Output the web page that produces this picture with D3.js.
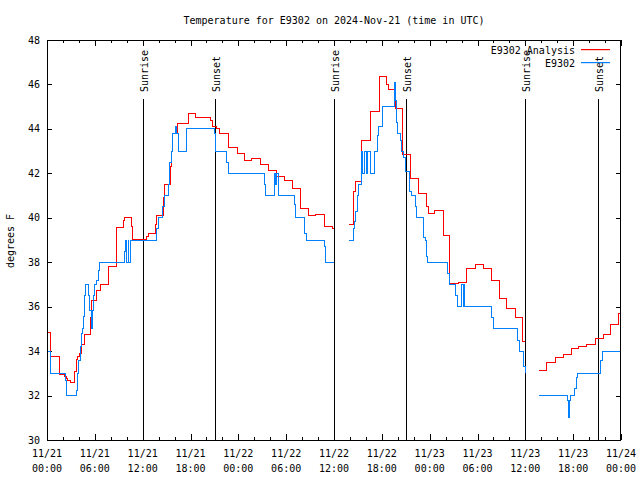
<!DOCTYPE html>
<html><head><meta charset="utf-8">
<script src="https://cdn.jsdelivr.net/npm/d3@7"></script>
<style>
body{margin:0;background:#fff;}
text{font-family:"DejaVu Sans Mono",monospace;font-size:10px;fill:#000;}
</style></head>
<body><svg id="c" width="640" height="480"></svg>
<script>
// ---- data (hours after 2024-11-21 00:00 UTC, degrees F) ----
const titleText = "Temperature for E9302 on 2024-Nov-21 (time in UTC)";
const yLabel = "degrees F";
const seriesNames = ["E9302 Analysis", "E9302"];
const yTicks = [30,32,34,36,38,40,42,44,46,48];
const sunriseHours = [12.0, 36.04, 60.0];
const sunsetHours = [21.11, 45.07, 69.15];
const analysis = [
 [0,34.85],[0.5,33.78],[1.63,32.93],[2.18,32.85],[2.4,32.75],[2.6,32.7],[3.01,32.58],[3.43,32.65],[3.51,33.1],[3.64,33.63],[3.85,33.75],[4.06,33.9],[4.35,34.3],[4.68,34.75],[5.44,35.5],[5.52,35.9],[5.64,36.3],[6.23,36.75],[6.65,36.98],[7.69,37.83],[8.66,39.57],[9.58,39.87],[9.7,40.02],[10.54,39.6],[10.7,39.03],[12.5,39.15],[12.71,39.3],[13.55,39.7],[13.76,40.12],[14.6,40.9],[14.72,41.52],[15.43,42.3],[15.64,43.0],[15.72,43.8],[16.39,44.25],[17.73,44.7],[18.57,44.52],[20.45,44.4],[20.78,44.1],[21.28,44.0],[21.7,43.8],[22.74,43.15],[23.92,42.9],[24.75,42.6],[25.59,42.65],[26.76,42.42],[27.76,42.15],[28.81,41.85],[29.77,41.67],[30.77,41.3],[31.74,40.43],[32.79,40.12],[33.62,40.15],[34.79,39.63],[35.83,39.5],[36.04,39.5],
 [36.05,null],
 [37.92,39.72],[38.43,41.2],[38.72,41.63],[39.4,43.5],[40.55,44.78],[41.69,46.38],[42.61,46.0],[42.82,45.78],[43.74,44.92],[44.62,42.87],[45.62,41.78],[46.58,41.1],[47.62,40.5],[47.83,40.2],[48.58,40.35],[49.72,39.22],[50.55,37.05],[51.59,37.1],[52.64,37.73],[53.69,37.9],[54.73,37.7],[55.7,37.2],[56.7,36.38],[57.66,35.93],[58.71,35.5],[59.63,34.43],[60.0,34.43],
 [60.01,null],
 [61.72,33.15],[62.68,33.48],[63.73,33.72],[64.77,33.83],[65.73,34.13],[66.65,34.2],[67.61,34.28],[68.74,34.58],[69.78,34.75],[70.7,35.18],[71.7,35.7],[72,35.7]
];
const observed = [
 [0,34],[0.5,33],[2.26,32.7],[2.42,32],[3.72,32.25],[3.85,33],[4.0,33.6],[4.15,34.2],[4.3,34.8],[4.45,35.0],[4.6,35.55],[4.75,36.5],[4.88,37.0],[5.23,36.5],[5.38,35.85],[5.52,35.0],[5.65,35.85],[5.8,36.5],[5.95,37.0],[6.2,37.2],[6.4,37.65],[6.6,38.0],[9.7,38.5],[9.87,39],[10.03,38],[10.2,39],[10.28,38],[10.49,39],[13.76,39.5],[13.96,40],[14.47,40.5],[14.68,41],[15.22,41.5],[15.35,42.5],[15.64,43],[15.76,43.8],[16.14,44.1],[16.26,43.8],[16.51,43],[17.44,44],[20.95,43.8],[21.12,43],[22.54,42.5],[22.74,42],[27.26,41.5],[27.35,41],[28.51,42],[28.7,41.5],[28.85,42],[29.01,41],[31.03,40.6],[31.19,40],[32.28,39.3],[32.49,39],[34.79,38.7],[34.96,38],[36.04,38],
 [36.05,null],
 [37.88,39],[38.43,39.5],[38.55,39.83],[38.72,40.3],[38.89,41],[39.05,41.5],[39.39,42.2],[39.47,43],[39.6,42],[39.81,43],[40.02,42],[40.2,43],[40.64,42],[41.06,43],[41.44,43.7],[41.56,44.1],[42.1,45],[43.55,46.1],[43.7,45.3],[43.86,44.3],[43.99,43.8],[44.28,43.5],[44.49,43],[44.7,42.7],[44.91,42.1],[45.53,41.2],[45.74,41],[46.25,40.5],[46.37,40],[47.2,39.1],[47.42,39],[47.6,38.25],[47.75,38],[50.22,37.5],[50.47,37],[51.27,36.5],[51.48,36],[52.02,37],[52.22,36],[52.31,37],[52.43,36],[55.78,35.5],[55.99,35],[58.99,34.5],[59.25,34],[59.75,33.3],[59.96,33.0],
 [59.97,null],
 [61.72,32],[65.27,31.77],[65.38,31.0],[65.55,31.77],[65.65,32],[66.15,32.3],[66.44,32.8],[66.57,33],[69.49,33.6],[69.7,34],[72,34]
];
const colors = ["#ff0000", "#0080ff"];

// ---- layout ----
const L = 47, R = 621, T = 40, B = 440;
const t0 = Date.UTC(2024,10,21,0,0);
const toDate = h => new Date(t0 + h*3600e3);
const svg = d3.select("#c");
const x = d3.scaleUtc().domain([toDate(0), toDate(72)]).range([L, R]);
const y = d3.scaleLinear().domain([30,48]).range([B, T]);

svg.append("text").attr("x", 334).attr("y", 24).attr("text-anchor","middle").text(titleText);

const majors = d3.range(0, 73, 6).map(toDate);
const minors = d3.range(0, 73, 2).filter(h => h % 6 !== 0).map(toDate);

function ax(gen, tr){ const g = svg.append("g").attr("transform", tr).call(gen);
  g.select(".domain").remove(); g.selectAll("line").attr("stroke","#000").attr("shape-rendering","crispEdges"); g.selectAll("text").remove(); return g; }
ax(d3.axisBottom(x).tickValues(majors).tickSize(-6), `translate(0,${B})`);
ax(d3.axisTop(x).tickValues(majors).tickSize(-6), `translate(0,${T})`);
ax(d3.axisBottom(x).tickValues(minors).tickSize(-3), `translate(0,${B})`);
ax(d3.axisTop(x).tickValues(minors).tickSize(-3), `translate(0,${T})`);
ax(d3.axisLeft(y).tickValues(yTicks).tickSize(-5), `translate(${L},0)`);
ax(d3.axisRight(y).tickValues(yTicks).tickSize(-5), `translate(${R},0)`);

// y labels
svg.append("g").selectAll("text").data(yTicks).join("text")
  .attr("x", 40).attr("y", d => y(d) + 3.5).attr("text-anchor","end").text(d => d);
// x labels
const fmtD = d3.utcFormat("%m/%d"), fmtT = d3.utcFormat("%H:%M");
const xl = svg.append("g").selectAll("text").data(majors).join("text")
  .attr("text-anchor","middle");
xl.append("tspan").attr("x", d => x(d)).attr("y", 457).text(fmtD);
xl.append("tspan").attr("x", d => x(d)).attr("y", 472).text(fmtT);

svg.append("text").attr("transform","translate(13.5,241) rotate(-90)")
  .attr("text-anchor","middle").text(yLabel);

// sun lines
const sun = sunriseHours.map(h => ({h, l:"Sunrise"})).concat(sunsetHours.map(h => ({h, l:"Sunset"})));
const sg = svg.append("g");
sun.forEach(s => {
  const xp = Math.round(x(toDate(s.h))) + 0.5;
  sg.append("line").attr("x1", xp).attr("x2", xp).attr("y1", 99).attr("y2", B)
    .attr("stroke","#000").attr("shape-rendering","crispEdges");
  sg.append("text").attr("transform", `translate(${xp+4.5},92) rotate(-90)`).text(s.l);
});

// series
const line = d3.line().defined(d => d[1] != null)
  .x(d => x(toDate(d[0]))).y(d => y(d[1])).curve(d3.curveStepAfter);
[analysis, observed].forEach((ser, i) => {
  svg.append("path").datum(ser).attr("d", line).attr("fill","none")
    .attr("stroke", colors[i]).attr("stroke-width", 1).attr("shape-rendering","crispEdges");
});

// frame
svg.append("rect").attr("x", L+0.5).attr("y", T+0.5).attr("width", R-L-1).attr("height", B-T)
  .attr("fill","none").attr("stroke","#000").attr("shape-rendering","crispEdges");

// legend
seriesNames.forEach((n, i) => {
  const yy = 50 + i*13;
  svg.append("text").attr("x", 575).attr("y", yy + 3.5).attr("text-anchor","end").text(n);
  svg.append("rect").attr("x", 581).attr("y", yy - 1).attr("width", 29).attr("height", 1.2)
    .attr("fill", colors[i]);
});
</script></body></html>
